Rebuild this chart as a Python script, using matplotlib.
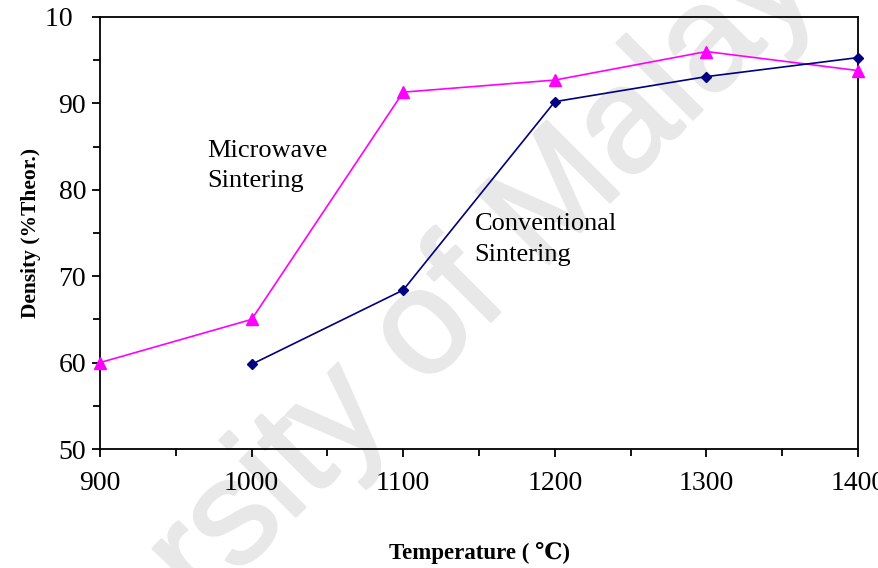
import matplotlib.pyplot as plt
import matplotlib.patheffects as pe
from matplotlib.ticker import MultipleLocator

plt.rcParams['font.family'] = ['Liberation Serif', 'DejaVu Serif']

# Sintering temperatures and densities
temp_microwave = [900, 1000, 1100, 1200, 1300, 1400]
dens_microwave = [60.0, 65.0, 91.3, 92.7, 96.0, 93.8]
temp_conventional = [1000, 1100, 1200, 1300, 1400]
dens_conventional = [59.8, 68.4, 90.2, 93.1, 95.3]

y_ticks = [50, 60, 70, 80, 90, 100]
y_ticklabels = ['50', '60', '70', '80', '90', '10\u2007']

fig = plt.figure(figsize=(8.79, 5.68), dpi=100)
ax = fig.add_axes([0.1138, 0.2095, 0.8623, 0.7606])
ax.set_facecolor('none')

# faint watermark behind the plot
wm = fig.text(0.462, 0.285, 'University of Malaya', fontsize=107, color='#e8e8e8',
              family='Liberation Sans', rotation=45,
              rotation_mode='anchor', ha='center', va='baseline',
              path_effects=[pe.withStroke(linewidth=2, foreground='#e8e8e8')])
wm.set_zorder(-1)

ax.plot(temp_microwave, dens_microwave, color='#ff00ff', linewidth=1.2,
        marker='^', markersize=8, clip_on=False, zorder=3)
ax.plot(temp_conventional, dens_conventional, color='#000080', linewidth=1.2,
        marker='D', markersize=5.5, clip_on=False, zorder=3)

ax.text(971, 85.8, 'Microwave\nSintering', fontsize=19, linespacing=1.5, va='top')
ax.text(1147, 77.3, 'Conventional\nSintering', fontsize=19, linespacing=1.5, va='top')

ax.set_xlim(900, 1400)
ax.set_ylim(50, 100)
ax.set_yticks(y_ticks)
ax.set_yticklabels(y_ticklabels)
ax.xaxis.set_minor_locator(MultipleLocator(50))
ax.yaxis.set_minor_locator(MultipleLocator(5))
ax.tick_params(which='major', direction='out', length=6, width=1.3,
               labelsize=20, pad=4)
ax.tick_params(which='minor', direction='out', length=5, width=1.3)
ax.tick_params(axis='x', pad=10)
for sp in ax.spines.values():
    sp.set_linewidth(1.3)

ax.set_xlabel('Temperature ( \u2103)', fontsize=16.5, fontweight='bold', labelpad=33)
ax.set_ylabel('Density (%Theor.)', fontsize=15.5, fontweight='bold')
ax.yaxis.set_label_coords(-0.078, 0.5)

fig.savefig('out.png', dpi=100)
